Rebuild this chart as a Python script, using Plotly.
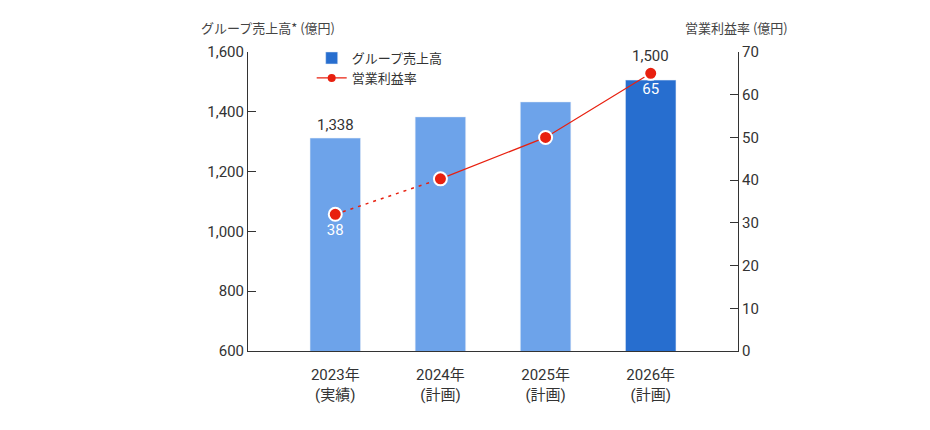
import plotly.graph_objects as go

years = ['2023年<br>(実績)', '2024年<br>(計画)', '2025年<br>(計画)', '2026年<br>(計画)']
sales = [1312, 1383, 1433, 1506]
sales_labels = ['1,338', '', '', '1,500']
margin = [32, 40.3, 50, 65]
margin_labels = ['38', '', '', '65']

bar_colors = ['#6da3ea', '#6da3ea', '#6da3ea', '#276ecf']
font = 'Roboto, Noto Sans CJK JP'
red = '#e8200f'

fig = go.Figure()
fig.add_trace(go.Bar(
    x=years, y=sales, marker_color=bar_colors, width=0.48, showlegend=False))

# actual -> plan segment is dotted
fig.add_trace(go.Scatter(
    x=years[:2], y=margin[:2], yaxis='y2', mode='lines',
    line=dict(color=red, width=1.5, dash='3px,5px'), showlegend=False))
fig.add_trace(go.Scatter(
    x=years[1:], y=margin[1:], yaxis='y2', mode='lines',
    line=dict(color=red, width=1.2), showlegend=False))
fig.add_trace(go.Scatter(
    x=years, y=margin, yaxis='y2', mode='markers+text', showlegend=False,
    marker=dict(color=red, size=13, line=dict(color='white', width=2)),
    text=margin_labels, textposition='bottom center',
    textfont=dict(size=15, color='white')))

# legend-only entries
fig.add_trace(go.Bar(x=[None], y=[None], name='グループ売上高', marker_color='#276ecf'))
fig.add_trace(go.Scatter(
    x=[None], y=[None], yaxis='y2', mode='lines+markers', name='営業利益率',
    line=dict(color=red, width=1.2), marker=dict(color=red, size=8)))

annotations = [
    dict(text='グループ売上高* (億円)', xref='paper', yref='paper', x=-0.1, y=1.045,
         xanchor='left', yanchor='bottom', showarrow=False,
         font=dict(size=13, color='#444', family='Noto Sans CJK JP')),
    dict(text='営業利益率 (億円)', xref='paper', yref='paper', x=1.106, y=1.045,
         xanchor='right', yanchor='bottom', showarrow=False,
         font=dict(size=13, color='#444', family='Noto Sans CJK JP')),
]
# value labels: first above its bar, last above the margin point
annotations.append(dict(text=sales_labels[0], x=years[0], y=sales[0], xref='x', yref='y',
                        yanchor='bottom', yshift=2, showarrow=False,
                        font=dict(size=15, color='#333')))
annotations.append(dict(text=sales_labels[3], x=years[3], y=margin[3], xref='x', yref='y2',
                        yanchor='bottom', yshift=6, showarrow=False,
                        font=dict(size=15, color='#333')))

fig.update_layout(
    width=930, height=430,
    margin=dict(l=240, r=200, t=44, b=87),
    plot_bgcolor='white', paper_bgcolor='white',
    font=dict(family=font, size=15, color='#333'),
    xaxis=dict(range=[-0.83, 3.83], showline=True, linecolor='#333', linewidth=1,
               ticks='', tickfont=dict(size=15), ticklabelstandoff=10),
    yaxis=dict(range=[600, 1600], dtick=200, tickformat=',', showgrid=False,
               showline=True, linecolor='#333', linewidth=1,
               ticks='inside', ticklen=8, tickcolor='#333', zeroline=False),
    yaxis2=dict(range=[0, 70], dtick=10, overlaying='y', side='right', showgrid=False,
                showline=True, linecolor='#333', linewidth=1,
                ticks='inside', ticklen=8, tickcolor='#333', zeroline=False),
    legend=dict(x=0.13, y=1.03, xanchor='left', yanchor='top', bgcolor='rgba(0,0,0,0)',
                font=dict(size=13, family='Noto Sans CJK JP'), tracegroupgap=0),
    annotations=annotations,
)

fig.write_html('out.html')
